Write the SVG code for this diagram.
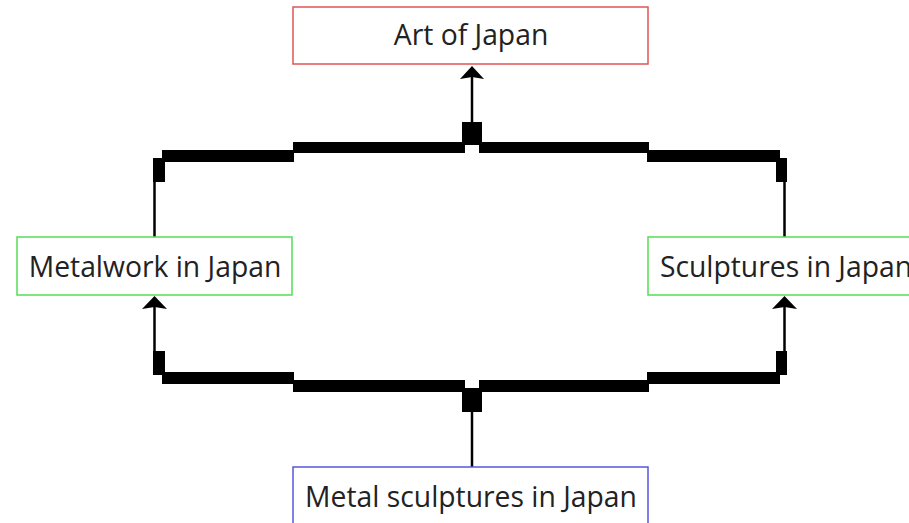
<svg xmlns="http://www.w3.org/2000/svg" width="909" height="523" viewBox="0 0 909 523">
<style>
.box{fill:#fff;stroke-width:1.5}
.red{stroke:#e05555}
.green{stroke:#55dd55}
.blue{stroke:#5555e0}
.lbl{font-family:"Open Sans","Noto Sans",sans-serif;font-size:28.3px;fill:#222;text-anchor:middle}
.thin{stroke:#000;stroke-width:2.5;fill:none}
.thick{fill:#000}
.head{fill:#000}
</style>
<rect width="909" height="523" fill="#fff"/>
<g id="connectors">
<g id="e-metalwork-art">
<line class="thin" x1="154.5" y1="237" x2="154.5" y2="180"/>
<rect class="thick" x="153" y="158" width="12" height="24"/>
<rect class="thick" x="162" y="150" width="132" height="12"/>
<rect class="thick" x="293" y="142" width="172" height="11"/>
</g>
<g id="e-sculptures-art">
<line class="thin" x1="784.5" y1="237" x2="784.5" y2="180"/>
<rect class="thick" x="776" y="158" width="11" height="24"/>
<rect class="thick" x="647" y="150" width="133" height="12"/>
<rect class="thick" x="479" y="142" width="170" height="11"/>
</g>
<g id="e-art-head">
<rect class="thick" x="462" y="122" width="20" height="23"/>
<path d="M472,122 L472,77" class="thin"/>
<path class="head" d="M460,79 L472,66 L484,79 L472,77 Z"/>
</g>
<g id="e-metal-metalwork">
<line class="thin" x1="472" y1="467" x2="472" y2="410"/>
<rect class="thick" x="462" y="388" width="20" height="24"/>
<rect class="thick" x="293" y="380" width="172" height="12"/>
<rect class="thick" x="162" y="372" width="132" height="12"/>
<rect class="thick" x="153" y="351" width="12" height="24"/>
<path d="M154.5,353 L154.5,307" class="thin"/>
<path class="head" d="M142,309 L154.5,296 L167,309 L154.5,307 Z"/>
</g>
<g id="e-metal-sculptures">
<rect class="thick" x="479" y="380" width="170" height="12"/>
<rect class="thick" x="647" y="372" width="133" height="12"/>
<rect class="thick" x="776" y="351" width="11" height="24"/>
<path d="M784.5,353 L784.5,307" class="thin"/>
<path class="head" d="M772,309 L784.5,296 L797,309 L784.5,307 Z"/>
</g>
</g>
<g id="node-art">
<rect class="box red" x="293" y="7" width="355" height="57"/>
<text class="lbl" x="471" y="45">Art of Japan</text>
</g>
<g id="node-metalwork">
<rect class="box green" x="17" y="237" width="275" height="58"/>
<text class="lbl" x="155" y="277">Metalwork in Japan</text>
</g>
<g id="node-sculptures">
<rect class="box green" x="648" y="237" width="275" height="58"/>
<text class="lbl" x="786" y="277">Sculptures in Japan</text>
</g>
<g id="node-metal">
<rect class="box blue" x="293" y="467" width="355" height="70"/>
<text class="lbl" x="471" y="507">Metal sculptures in Japan</text>
</g>
</svg>
